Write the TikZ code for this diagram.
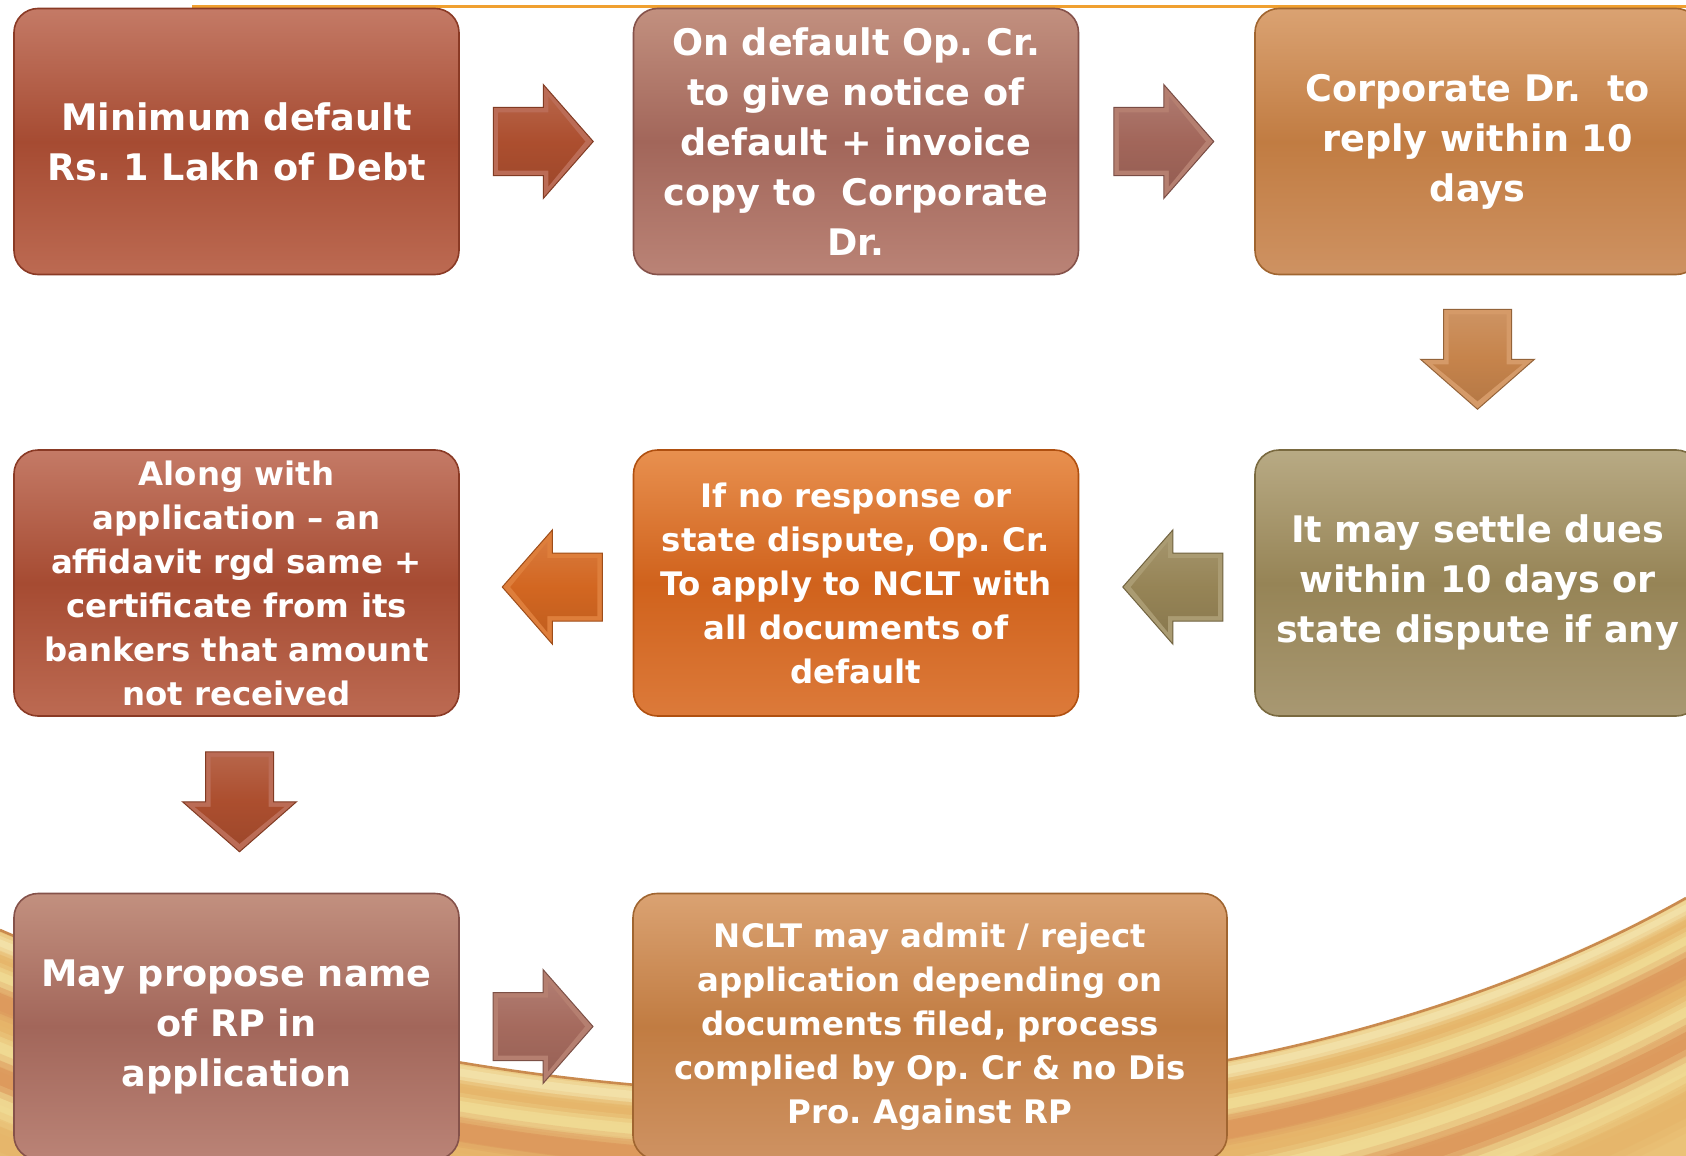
\documentclass[tikz,border=0pt]{standalone}
\usepackage{fontspec}
\setmainfont{DejaVu Sans}
\usetikzlibrary{calc}
\frenchspacing

% box palettes: top / middle / bottom / edge
\definecolor{brickT}{HTML}{C47A66}\definecolor{brickM}{HTML}{A64B32}\definecolor{brickB}{HTML}{BC6A52}\definecolor{brickE}{HTML}{8A3A25}
\definecolor{roseT}{HTML}{C2907F}\definecolor{roseM}{HTML}{A2665A}\definecolor{roseB}{HTML}{BA8376}\definecolor{roseE}{HTML}{85524A}
\definecolor{tanT}{HTML}{DAA272}\definecolor{tanM}{HTML}{C17C42}\definecolor{tanB}{HTML}{CE9262}\definecolor{tanE}{HTML}{A06530}
\definecolor{orgT}{HTML}{E8904F}\definecolor{orgM}{HTML}{D0621C}\definecolor{orgB}{HTML}{DC7A3A}\definecolor{orgE}{HTML}{B05010}
\definecolor{oliT}{HTML}{B8AA84}\definecolor{oliM}{HTML}{968456}\definecolor{oliB}{HTML}{A89872}\definecolor{oliE}{HTML}{7A6A40}
% swoosh colours
\definecolor{swBase}{HTML}{EAC277}
\definecolor{swRim}{HTML}{C98A4E}
\definecolor{swCream}{HTML}{F5EBB8}
\definecolor{swGold}{HTML}{E6B468}
\definecolor{swPale}{HTML}{F2E29C}
\definecolor{swOrange}{HTML}{DA8E56}
\definecolor{topline}{HTML}{F0A030}

\tikzset{
  x=0.5pt, y=-0.5pt,
  stage/.style={rounded corners=12pt, minimum width=222.5pt, minimum height=133pt,
    inner sep=0pt, align=center, text=white, line width=0.8pt,
    font=\bfseries\fontsize{18.3}{25}\selectfont},
  smalltext/.style={font=\bfseries\fontsize{16.2}{22}\selectfont},
  brick/.style={top color=brickT, bottom color=brickB, middle color=brickM, draw=brickE},
  rose/.style={top color=roseT, bottom color=roseB, middle color=roseM, draw=roseE},
  tan/.style={top color=tanT, bottom color=tanB, middle color=tanM, draw=tanE},
  org/.style={top color=orgT, bottom color=orgB, middle color=orgM, draw=orgE},
  oli/.style={top color=oliT, bottom color=oliB, middle color=oliM, draw=oliE},
  pics/barrow/.style 2 args={
    code={
      \fill[fill=#1, draw=#2!75!black, line width=0.5pt]
        (-50,-34) -- (0,-34) -- (0,-57) -- (50,0) -- (0,57) -- (0,34) -- (-50,34) -- cycle;
      \shade[top color=#2!88!white, bottom color=#2!92!black, middle color=#2]
        (-45,-29) -- (5,-29) -- (5,-45) -- (42,0) -- (5,45) -- (5,29) -- (-45,29) -- cycle;
    }
  }
}

\begin{document}
\begin{tikzpicture}
\useasboundingbox (0,0) rectangle (1686,1156);
\clip (0,0) rectangle (1686,1156);
\fill[white] (0,0) rectangle (1686,1156);

% golden swoosh along the bottom
\fill[swBase] (0,930) .. controls (300,1060) and (700,1125) .. (1100,1080)
  .. controls (1350,1050) and (1550,975) .. (1686,898) -- (1686,1200) -- (0,1200) -- cycle;
\foreach \dy/\w/\c in {12/14/swCream, 28/16/swGold, 46/18/swPale, 70/24/swOrange,
                       96/20/swGold, 118/22/swPale, 146/28/swOrange, 176/26/swPale, 206/30/swGold}{
  \foreach \f/\o in {1.7/0.22, 1.25/0.35, 0.8/0.5}{
    \draw[shift={(0,\dy)}, color=\c, line width=\f*\w*0.5pt, opacity=\o]
      (-20,925) .. controls (300,1060) and (700,1125) .. (1100,1080)
      .. controls (1350,1050) and (1550,975) .. (1720,880);
  }
}
\draw[swRim, line width=1.3pt] (0,930) .. controls (300,1060) and (700,1125) .. (1100,1080)
  .. controls (1350,1050) and (1550,975) .. (1686,898);

% thin rule along the top
\draw[topline, line width=1.4pt] (192,6.5) -- (1686,6.5);

% process steps
\node[stage, brick] (b11) at (236.5,141.5) {Minimum default\\Rs. 1 Lakh of Debt};
\node[stage, rose]  (b12) at (856,141.5) {On default Op. Cr.\\to give notice of\\default + invoice\\copy to\ \ Corporate\\Dr.};
\node[stage, tan]   (b13) at (1477.5,141.5) {Corporate Dr.\ \ to\\reply within 10\\days};

\node[stage, brick, smalltext] (b21) at (236.5,583) {Along with\\application – an\\affidavit rgd same +\\certificate from its\\bankers that amount\\not received};
\node[stage, org, smalltext] (b22) at (856,583) {If no response or\\state dispute, Op. Cr.\\To apply to NCLT with\\all documents of\\default};
\node[stage, oli] (b23) at (1477.5,583) {It may settle dues\\within 10 days or\\state dispute if any};

\node[stage, rose] (b31) at (236.5,1026.5) {May propose name\\of RP in\\application};
\node[stage, tan, smalltext, minimum width=297pt] (b32) at (930,1026.5) {NCLT may admit / reject\\application depending on\\documents filed, process\\complied by Op. Cr \& no Dis\\Pro. Against RP};

% block arrows between the steps
\coordinate (a1) at ($(b11.east)!0.5!(b12.west)+(-3,0)$);
\coordinate (a2) at ($(b12.east)!0.5!(b13.west)+(-3,0)$);
\coordinate (a3) at ($(b13.south)!0.5!(b23.north)+(0,-3)$);
\coordinate (a4) at ($(b23.west)!0.5!(b22.east)+(6,4)$);
\coordinate (a5) at ($(b22.west)!0.5!(b21.east)+(6,4)$);
\coordinate (a6) at ($(b21.south)!0.5!(b31.north)+(3,-3)$);
\coordinate (a7) at ($(b31.east)!0.5!(b32.west)+(-3,0)$);

\pic at (a1) {barrow={brickT!70!brickM}{brickM!85!orgM}};
\pic at (a2) {barrow={roseT!60!roseM}{roseM}};
\pic[rotate=-90] at (a3) {barrow={tanT!80!tanM}{tanM!80!tanT}};
\pic[rotate=180] at (a4) {barrow={oliT!60!oliM}{oliM}};
\pic[rotate=180] at (a5) {barrow={orgT!60!orgM}{orgM!90!orgT}};
\pic[rotate=-90] at (a6) {barrow={brickT!70!brickM}{brickM!85!orgM}};
\pic at (a7) {barrow={roseT!60!roseM}{roseM!90!roseT}};
\end{tikzpicture}
\end{document}
